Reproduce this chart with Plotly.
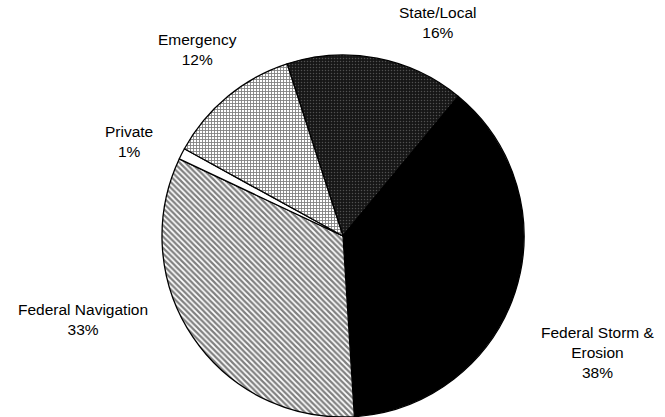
import plotly.graph_objects as go

# Funding sources, clockwise from State/Local
labels = ["State/Local", "Federal Storm &<br>Erosion", "Federal Navigation", "Private", "Emergency"]
shares = [16, 38, 33, 1, 12]

# Fill styles per slice (monochrome print look)
pattern_shapes = [".", "", "\\", "", "+"]
bg_colors = ["#161616", "#000000", "#ffffff", "#ffffff", "#ffffff"]
fg_colors = ["#8a8a8a", "#000000", "#000000", "#000000", "#000000"]
pattern_sizes = [3, 4, 4, 4, 3]
solidities = [0.2, 0.3, 0.55, 0.3, 0.5]

# Label anchor points (pixel coords, converted to paper below)
label_x = [438, 598, 83, 129, 197]
label_y = [22, 352, 319, 141, 49]

W, H = 665, 417
cx, cy, r = 343, 236, 181

fig = go.Figure(go.Pie(
    labels=labels,
    values=shares,
    sort=False,
    direction="clockwise",
    rotation=-18,
    textinfo="none",
    hoverinfo="label+percent",
    marker=dict(
        colors=bg_colors,
        line=dict(color="#000000", width=1.3),
        pattern=dict(
            shape=pattern_shapes,
            fgcolor=fg_colors,
            bgcolor=bg_colors,
            size=pattern_sizes,
            solidity=solidities,
            fillmode="overlay",
        ),
    ),
    domain=dict(x=[(cx - r) / W, (cx + r) / W], y=[(H - cy - r) / H, (H - cy + r) / H]),
    showlegend=False,
))

for name, val, x, y in zip(labels, shares, label_x, label_y):
    fig.add_annotation(
        x=x / W, y=1 - y / H, xref="paper", yref="paper",
        text=f"{name}<br>{val}%", showarrow=False,
        font=dict(family="Liberation Sans, Arial, sans-serif", size=15.5, color="#000000"),
        align="center", xanchor="center", yanchor="middle",
    )

fig.update_layout(
    width=W, height=H,
    margin=dict(l=0, r=0, t=0, b=0),
    paper_bgcolor="white",
    plot_bgcolor="white",
)

fig.write_html("out.html")
